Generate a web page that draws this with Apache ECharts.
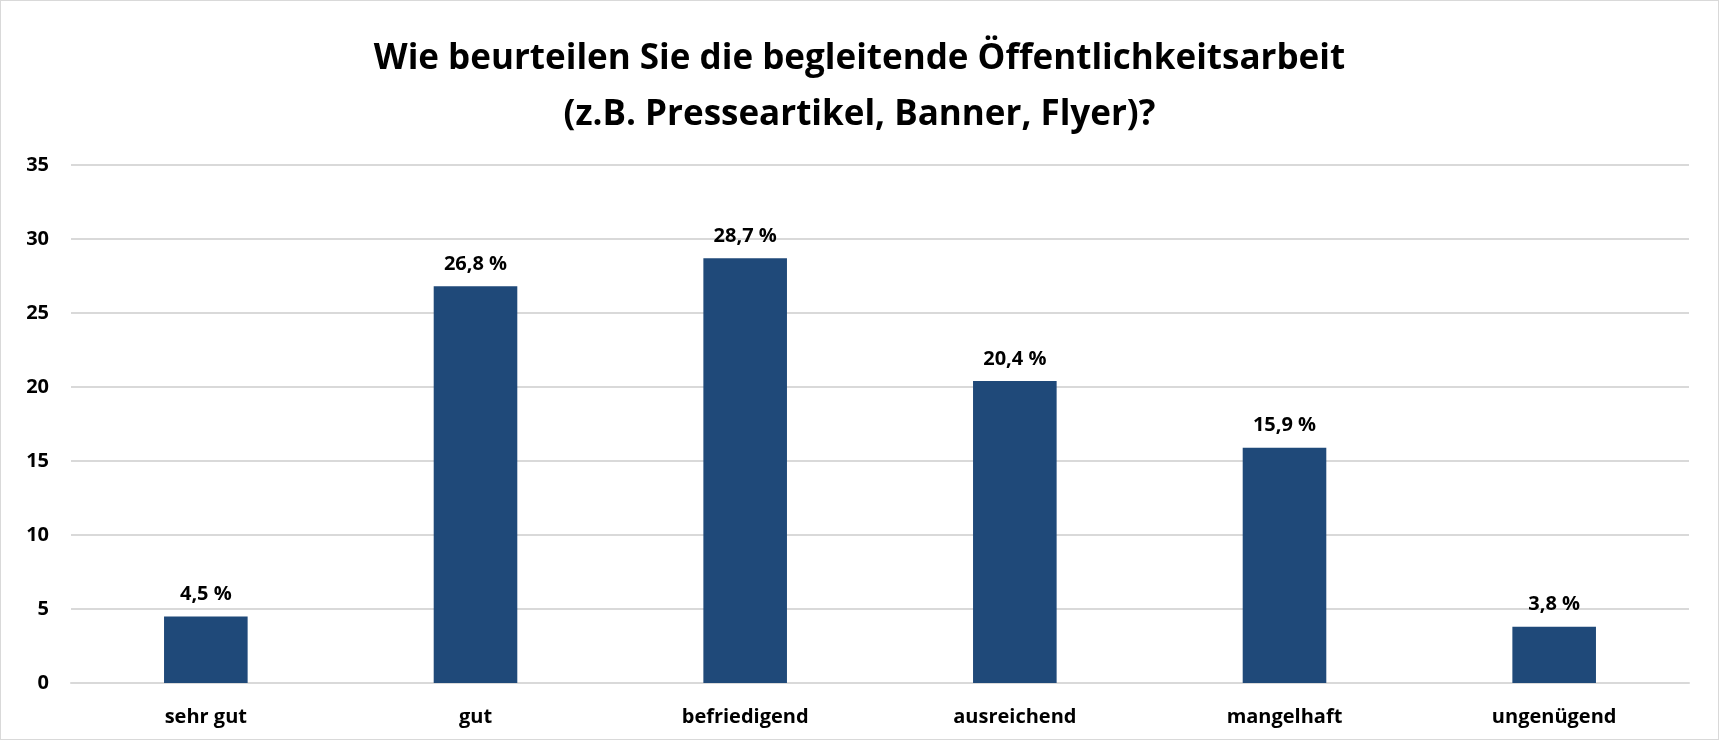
<!DOCTYPE html>
<html>
<head>
<meta charset="utf-8">
<script src="https://cdn.jsdelivr.net/npm/echarts@6/dist/echarts.min.js"></script>
<style>
  html, body { margin: 0; padding: 0; background: #fff; }
  #chart { width: 1717px; height: 738px; border: 1px solid #d9d9d9; }
</style>
</head>
<body>
<div id="chart"></div>
<script>
// Bewertung der Öffentlichkeitsarbeit
var categories = ['sehr gut', 'gut', 'befriedigend', 'ausreichend', 'mangelhaft', 'ungenügend']
var values = [4.5, 26.8, 28.7, 20.4, 15.9, 3.8]
var yTicks = [0, 5, 10, 15, 20, 25, 30, 35]

var font = '"Open Sans", "Noto Sans", sans-serif'
var chart = echarts.init(document.getElementById('chart'))

chart.setOption({
  animation: false,
  title: {
    text: 'Wie beurteilen Sie die begleitende Öffentlichkeitsarbeit\n(z.B. Presseartikel, Banner, Flyer)?',
    left: 'center',
    top: 25,
    textStyle: {
      fontFamily: font,
      fontWeight: 'bold',
      fontSize: 35,
      lineHeight: 56,
      color: '#000'
    }
  },
  grid: {
    left: 70,
    right: 29,
    top: 164,
    bottom: 56
  },
  xAxis: {
    type: 'category',
    data: categories,
    axisLine: { show: true, lineStyle: { color: '#d9d9d9', width: 2 } },
    axisTick: { show: false },
    axisLabel: {
      margin: 24,
      fontFamily: font,
      fontWeight: 'bold',
      fontSize: 20,
      color: '#000'
    }
  },
  yAxis: {
    type: 'value',
    min: yTicks[0],
    max: yTicks[yTicks.length - 1],
    interval: 5,
    axisLine: { show: false },
    axisTick: { show: false },
    splitLine: { lineStyle: { color: '#d9d9d9', width: 2 } },
    axisLabel: {
      margin: 22,
      fontFamily: font,
      fontWeight: 'bold',
      fontSize: 20,
      color: '#000'
    }
  },
  series: [{
    type: 'bar',
    data: values,
    barWidth: '31%',
    itemStyle: { color: '#1f4979' },
    label: {
      show: true,
      position: 'top',
      distance: 12,
      fontFamily: font,
      fontWeight: 'bold',
      fontSize: 20,
      color: '#000',
      formatter: function (p) {
        return p.value.toFixed(1).replace('.', ',') + ' %'
      }
    }
  }]
})
</script>
</body>
</html>
